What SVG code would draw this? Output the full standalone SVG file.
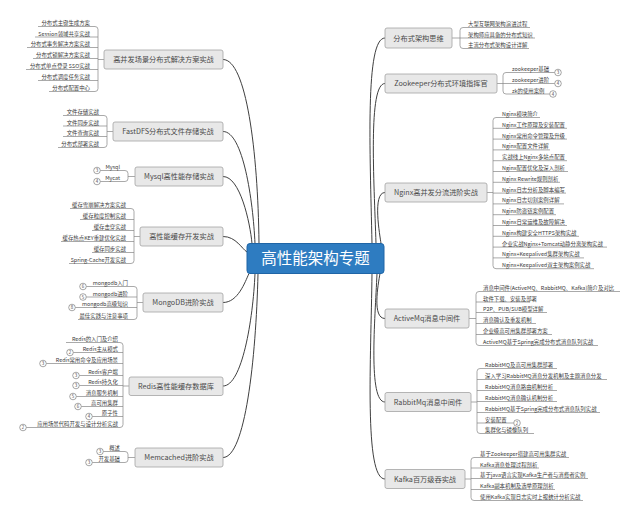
<svg xmlns="http://www.w3.org/2000/svg" width="640" height="521" viewBox="0 0 640 521">
<defs>
<style>
text{font-family:"Noto Sans CJK SC","Noto Sans",sans-serif;}
.bg{fill:#ffffff;}
.node{fill:#e8e8e8;stroke:#a3a3a3;stroke-width:0.8;}
.nt{font-size:7.2px;fill:#4a4a4a;text-anchor:middle;}
.ct{font-size:5.4px;fill:#3a3a3a;}
.ce{text-anchor:end;}
.ul{stroke:#858585;stroke-width:0.7;fill:none;}
.br{stroke:#858585;stroke-width:0.7;fill:none;}
.main{stroke:#3f3f3f;stroke-width:1;fill:none;}
.mk{fill:#ffffff;stroke:#6a6a6a;stroke-width:0.6;}
.mt{font-size:4.4px;fill:#444;text-anchor:middle;}
</style>
</defs>
<rect class="bg" width="640" height="521"/>

<g id="connectors">
<path class="main" d="M223,59.5 C246,59.5 258,150 259,243.5"/>
<path class="main" d="M223,131.5 C243,131.5 253,200 255,243.5"/>
<path class="main" d="M223,176.5 C240,176.5 250,222 252,243.5"/>
<path class="main" d="M223,236.5 C236,236.5 242,249 247,252"/>
<path class="main" d="M223,302.5 C238,302.5 245,282 249,273.5"/>
<path class="main" d="M223,386 C242,386 253,320 255,273.5"/>
<path class="main" d="M223,457.5 C245,457.5 256,360 258,273.5"/>
<path class="main" d="M385,38 C365,38 370,150 372,243.5"/>
<path class="main" d="M385,83.5 C368,83.5 374,180 376,243.5"/>
<path class="main" d="M385,192.5 C372,192.5 380,236 381,243.5"/>
<path class="main" d="M385,318.5 C372,318.5 378,285 380,273.5"/>
<path class="main" d="M385,402 C368,402 375,320 377,273.5"/>
<path class="main" d="M385,479 C364,479 371,360 372,273.5"/>
<!-- brackets -->
<path class="br" d="M95,26.5 Q98,26.5 98,29.5 V88.5 Q98,91.5 95,91.5 M98,59.5 H104"/>
<path class="br" d="M104,115.5 Q107,115.5 107,118.5 V144.5 Q107,147.5 104,147.5 M107,131.5 H113"/>
<path class="br" d="M125,170.5 Q128,170.5 128,173.5 V178.5 Q128,181.5 125,181.5 M128,176.5 H135"/>
<path class="br" d="M131,208.5 Q134,208.5 134,211.5 V260.5 Q134,263.5 131,263.5 M134,236.5 H140"/>
<path class="br" d="M134,286.5 Q137,286.5 137,289.5 V316.5 Q137,319.5 134,319.5 M137,302.5 H143"/>
<path class="br" d="M120,342.5 Q123,342.5 123,345.5 V424.5 Q123,427.5 120,427.5 M123,386 H129"/>
<path class="br" d="M125,451.5 Q128,451.5 128,454.5 V459.5 Q128,462.5 125,462.5 M128,457.5 H135"/>
<path class="br" d="M463,27.5 Q460,27.5 460,30.5 V45.5 Q460,48.5 463,48.5 M452,38 H460"/>
<path class="br" d="M506,72.5 Q503,72.5 503,75.5 V91 Q503,94 506,94 M497,83.5 H503"/>
<path class="br" d="M496,117.5 Q493,117.5 493,120.5 V265.7 Q493,268.7 496,268.7 M487,192.5 H493"/>
<path class="br" d="M479,291.5 Q476,291.5 476,294.5 V342.5 Q476,345.5 479,345.5 M469,318.5 H476"/>
<path class="br" d="M480,368.5 Q477,368.5 477,371.5 V430.5 Q477,433.5 480,433.5 M471,402 H477"/>
<path class="br" d="M474,457.5 Q471,457.5 471,460.5 V497.5 Q471,500.5 474,500.5 M465,479 H471"/>
</g>

<g id="center">
<rect x="247" y="243.5" width="137" height="30" rx="3" fill="#2e7cc1" stroke="#1f65a6" stroke-width="1"/>
<text x="315.5" y="264.3" font-size="15.5" fill="#ffffff" text-anchor="middle">高性能架构专题</text>
</g>

<!-- Left group 1 -->
<g id="n-gaobingfa">
<rect class="node" x="104" y="50" width="119" height="19" rx="2"/>
<text class="nt" x="163.5" y="62.2">高并发场景分布式解决方案实战</text>
<path class="ul" d="M38,26.5 H95 M35,37 H98 M27,47.5 H98 M33,58.5 H98 M26,69.5 H98 M38,80.5 H98 M49,91.5 H95"/>
<text class="ct ce" x="90" y="25">分布式主键生成方案</text>
<text class="ct ce" x="90" y="35.5">Session领域共享实战</text>
<text class="ct ce" x="90" y="46">分布式事务解决方案实战</text>
<text class="ct ce" x="90" y="57">分布式锁解决方案实战</text>
<text class="ct ce" x="90" y="68">分布式单点登录 SSO实战</text>
<text class="ct ce" x="90" y="79">分布式调度任务实战</text>
<text class="ct ce" x="90" y="90">分布式配置中心</text>
</g>

<g id="n-fastdfs">
<rect class="node" x="113" y="122" width="110" height="19" rx="2"/>
<text class="nt" x="168" y="134.2">FastDFS分布式文件存储实战</text>
<path class="ul" d="M63,115.5 H104 M63,126 H107 M63,136.5 H107 M58,147.5 H104"/>
<text class="ct ce" x="99" y="114">文件存储实战</text>
<text class="ct ce" x="99" y="124.5">文件同步实战</text>
<text class="ct ce" x="99" y="135">文件查询实战</text>
<text class="ct ce" x="99" y="146">分布式部署实战</text>
</g>

<g id="n-mysql">
<rect class="node" x="135" y="167" width="88" height="19" rx="2"/>
<text class="nt" x="179" y="179.2">Mysql高性能存储实战</text>
<path class="ul" d="M100.3,170.5 H125 M100.3,181.5 H125"/>
<circle class="mk" cx="97" cy="170.5" r="3.3"/><text class="mt" x="97" y="172">3</text>
<circle class="mk" cx="97" cy="181.5" r="3.3"/><text class="mt" x="97" y="183">4</text>
<text class="ct ce" x="120" y="169">Mysql</text>
<text class="ct ce" x="120" y="180">Mycat</text>
</g>

<g id="n-cache">
<rect class="node" x="140" y="227" width="83" height="19" rx="2"/>
<text class="nt" x="181.5" y="239.2">高性能缓存开发实战</text>
<path class="ul" d="M70,208.5 H131 M80,219.5 H134 M92,230.5 H134 M61,241.5 H134 M92,252.5 H134 M69,263.5 H131"/>
<text class="ct ce" x="126" y="207">缓存雪崩解决方案实战</text>
<text class="ct ce" x="126" y="218">缓存粒度控制实战</text>
<text class="ct ce" x="126" y="229">缓存击穿实战</text>
<text class="ct ce" x="126" y="240">缓存热点KEY重建优化实战</text>
<text class="ct ce" x="126" y="251">缓存同步实战</text>
<text class="ct ce" x="126" y="262">Spring-Cache开发实战</text>
</g>

<g id="n-mongodb">
<rect class="node" x="143" y="293" width="80" height="19" rx="2"/>
<text class="nt" x="183" y="305.2">MongoDB进阶实战</text>
<path class="ul" d="M86.3,286.5 H134 M86.3,297 H137 M75.3,307.5 H137 M78,319.5 H134"/>
<circle class="mk" cx="83" cy="286.5" r="3.3"/><text class="mt" x="83" y="288">6</text>
<circle class="mk" cx="83" cy="297" r="3.3"/><text class="mt" x="83" y="298.5">5</text>
<circle class="mk" cx="72" cy="307.5" r="3.3"/><text class="mt" x="72" y="309">8</text>
<text class="ct ce" x="128" y="285">mongodb入门</text>
<text class="ct ce" x="128" y="295.5">mongodb进阶</text>
<text class="ct ce" x="128" y="306">mongodb高级知识</text>
<text class="ct ce" x="128" y="318">最佳实践与注意事项</text>
</g>

<g id="n-redis">
<rect class="node" x="129" y="377" width="94" height="18.5" rx="2"/>
<text class="nt" x="176" y="388.9">Redis高性能缓存数据库</text>
<path class="ul" d="M66,342.5 H120 M73.3,352.5 H123 M46.3,363.5 H123 M79.3,375.5 H123 M79.3,385.5 H123 M76.3,396.5 H123 M81.3,406.5 H123 M92.3,416.5 H123 M26.3,427.5 H120"/>
<circle class="mk" cx="70" cy="352.5" r="3.3"/><text class="mt" x="70" y="354">2</text>
<circle class="mk" cx="43" cy="363.5" r="3.3"/><text class="mt" x="43" y="365">3</text>
<circle class="mk" cx="76" cy="375.5" r="3.3"/><text class="mt" x="76" y="377">3</text>
<circle class="mk" cx="76" cy="385.5" r="3.3"/><text class="mt" x="76" y="387">3</text>
<circle class="mk" cx="73" cy="396.5" r="3.3"/><text class="mt" x="73" y="398">5</text>
<circle class="mk" cx="78" cy="406.5" r="3.3"/><text class="mt" x="78" y="408">6</text>
<circle class="mk" cx="89" cy="416.5" r="3.3"/><text class="mt" x="89" y="418">4</text>
<circle class="mk" cx="23" cy="427.5" r="3.3"/><text class="mt" x="23" y="429">2</text>
<text class="ct ce" x="118" y="341">Redis的入门及介绍</text>
<text class="ct ce" x="118" y="351">Redis主从模式</text>
<text class="ct ce" x="118" y="362">Redis常用命令及应用场景</text>
<text class="ct ce" x="118" y="374">Redis客户端</text>
<text class="ct ce" x="118" y="384">Redis持久化</text>
<text class="ct ce" x="118" y="395">消息服务机制</text>
<text class="ct ce" x="118" y="405">高可用集群</text>
<text class="ct ce" x="118" y="415">原子性</text>
<text class="ct ce" x="118" y="426">应用场景代码开发与设计分析实战</text>
</g>

<g id="n-memcached">
<rect class="node" x="135" y="448" width="88" height="19" rx="2"/>
<text class="nt" x="179" y="460.2">Memcached进阶实战</text>
<path class="ul" d="M103.3,451.5 H125 M92.3,462.5 H125"/>
<circle class="mk" cx="100" cy="451.5" r="3.3"/><text class="mt" x="100" y="453">3</text>
<circle class="mk" cx="89" cy="462.5" r="3.3"/><text class="mt" x="89" y="464">3</text>
<text class="ct ce" x="120" y="450">概述</text>
<text class="ct ce" x="120" y="461">开发基础</text>
</g>

<!-- Right groups -->
<g id="n-fenbushi">
<rect class="node" x="385" y="28" width="67" height="20" rx="2"/>
<text class="nt" x="418.5" y="40.7">分布式架构思维</text>
<path class="ul" d="M463,27.5 H530 M460,38 H535 M463,48.5 H529"/>
<text class="ct" x="468" y="26">大型互联网架构演进过程</text>
<text class="ct" x="468" y="36.5">架构师应具备的分布式知识</text>
<text class="ct" x="468" y="47">主流分布式架构设计详解</text>
</g>

<g id="n-zookeeper">
<rect class="node" x="385" y="74" width="112" height="19" rx="2"/>
<text class="nt" x="441" y="86.2">Zookeeper分布式环境指挥官</text>
<path class="ul" d="M506,72.5 H554.7 M503,83.5 H554.7 M506,94 H549.7"/>
<circle class="mk" cx="558" cy="72.5" r="3.3"/><text class="mt" x="558" y="74">3</text>
<circle class="mk" cx="558" cy="83.5" r="3.3"/><text class="mt" x="558" y="85">4</text>
<circle class="mk" cx="553" cy="94" r="3.3"/><text class="mt" x="553" y="95.5">4</text>
<text class="ct" x="512" y="71">zookeeper基础</text>
<text class="ct" x="512" y="82">zookeeper进阶</text>
<text class="ct" x="512" y="92.5">zk的使用案例</text>
</g>

<g id="n-nginx">
<rect class="node" x="385" y="183" width="102" height="19" rx="2"/>
<text class="nt" x="436" y="195.2">Nginx高并发分流进阶实战</text>
<path class="ul" d="M496,117.5 H540 M493,128.3 H567 M493,139.1 H567 M493,149.9 H550 M493,160.7 H567 M493,171.5 H568 M493,182.3 H560 M493,193.1 H566 M493,203.9 H564 M493,214.7 H556 M493,225.5 H567 M493,236.3 H579 M493,247.1 H607 M493,257.9 H584 M496,268.7 H594"/>
<text class="ct" x="502" y="116">Nginx模块简介</text>
<text class="ct" x="502" y="126.8">Nginx工作原理及安装配置</text>
<text class="ct" x="502" y="137.6">Nginx常用命令管理及升级</text>
<text class="ct" x="502" y="148.4">Nginx配置文件详解</text>
<text class="ct" x="502" y="159.2">实战线上Nginx多站点配置</text>
<text class="ct" x="502" y="170">Nginx配置优化及深入剖析</text>
<text class="ct" x="502" y="180.8">Nginx Rewrite规则剖析</text>
<text class="ct" x="502" y="191.6">Nginx日志分析及脚本编写</text>
<text class="ct" x="502" y="202.4">Nginx日志切割案例详解</text>
<text class="ct" x="502" y="213.2">Nginx防盗链案例配置</text>
<text class="ct" x="502" y="224">Nginx日常运维及故障解决</text>
<text class="ct" x="502" y="234.8">Nginx构建安全HTTPS架构实战</text>
<text class="ct" x="502" y="245.6">企业实战Nginx+Tomcat动静分离架构实战</text>
<text class="ct" x="502" y="256.4">Nginx+Keepalived集群架构实战</text>
<text class="ct" x="502" y="267.2">Nginx+Keepalived双主架构案例实战</text>
</g>

<g id="n-activemq">
<rect class="node" x="385" y="309" width="84" height="19" rx="2"/>
<text class="nt" x="427" y="321.2">ActiveMq消息中间件</text>
<path class="ul" d="M479,291.5 H620 M476,302 H530 M476,312.5 H547 M476,323.5 H536 M476,334.5 H552 M479,345.5 H598"/>
<text class="ct" x="483" y="290">消息中间件(ActiveMQ、RabbitMQ、Kafka)简介及对比</text>
<text class="ct" x="483" y="300.5">软件下载、安装及部署</text>
<text class="ct" x="483" y="311">P2P、PUB/SUB模型详解</text>
<text class="ct" x="483" y="322">消息确认及重发机制</text>
<text class="ct" x="483" y="333">企业级高可用集群部署方案</text>
<text class="ct" x="483" y="344">ActiveMQ基于Spring完成分布式消息队列实战</text>
</g>

<g id="n-rabbitmq">
<rect class="node" x="385" y="392.5" width="86" height="19" rx="2"/>
<text class="nt" x="428" y="404.7">RabbitMq消息中间件</text>
<path class="ul" d="M480,368.5 H557 M477,379.5 H607 M477,390.5 H557 M477,401.5 H557 M477,412.5 H600 M477,423 H513.7 M480,433.5 H534"/>
<circle class="mk" cx="517" cy="423" r="3.3"/><text class="mt" x="517" y="424.5">2</text>
<text class="ct" x="485" y="367">RabbitMQ及高可用集群部署</text>
<text class="ct" x="485" y="378">深入学习RabbitMQ消息分发机制及主题消息分发</text>
<text class="ct" x="485" y="389">RabbitMQ消息路由机制分析</text>
<text class="ct" x="485" y="400">RabbitMQ消息确认机制分析</text>
<text class="ct" x="485" y="411">RabbitMQ基于Spring完成分布式消息队列实战</text>
<text class="ct" x="485" y="421.5">安装配置</text>
<text class="ct" x="485" y="432">集群化与镜像队列</text>
</g>

<g id="n-kafka">
<rect class="node" x="385" y="469.5" width="80" height="19" rx="2"/>
<text class="nt" x="425" y="481.7">Kafka百万级吞实战</text>
<path class="ul" d="M474,457.5 H569 M471,468 H539 M471,478.5 H588 M471,489.5 H555 M474,500.5 H583"/>
<text class="ct" x="480" y="456">基于Zookeeper搭建高可用集群实战</text>
<text class="ct" x="480" y="466.5">Kafka消息处理过程剖析</text>
<text class="ct" x="480" y="477">基于java语言实现Kafka生产者与消费者实例</text>
<text class="ct" x="480" y="488">Kafka副本机制及选举原理剖析</text>
<text class="ct" x="480" y="499">使用Kafka实现日志实时上报统计分析实战</text>
</g>
</svg>
